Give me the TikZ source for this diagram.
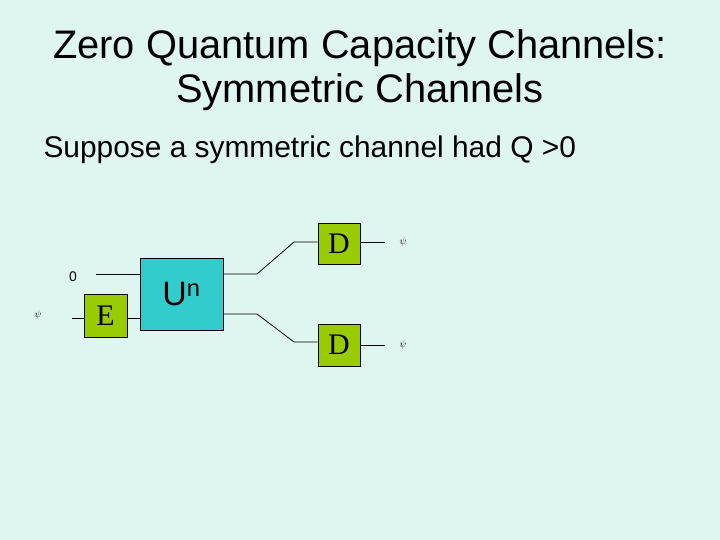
\documentclass[tikz,border=0pt]{standalone}
\usepackage{fontspec}
\setmainfont{Liberation Sans}
\newfontfamily\serifff{Liberation Serif}
\definecolor{bgc}{RGB}{222,245,240}
\definecolor{boxg}{RGB}{153,204,0}
\definecolor{boxu}{RGB}{51,204,204}
\begin{document}
\begin{tikzpicture}[x=1bp,y=-1bp,
  gate/.style={draw=black,line width=0.8bp,minimum width=#1,inner sep=0},
  wire/.style={line width=0.8bp}]
\fill[bgc] (0,0) rectangle (720,540);
\node[align=center,font=\fontsize{40}{44}\selectfont] (title) at (360,70) {Zero Quantum Capacity Channels:\\Symmetric Channels};
\node[anchor=west,font=\fontsize{30}{34}\selectfont] (sub) at (40,150) {Suppose a symmetric channel had Q >0};
\node[gate=43bp,minimum height=43bp,fill=boxg,font=\serifff\fontsize{30}{30}\selectfont] (E) at (105.5,315.5) {E};
\node[gate=83bp,minimum height=72bp,fill=boxu,font=\fontsize{34}{34}\selectfont] (U) at (181.5,294) {U\textsuperscript{n}};
\node[gate=42bp,minimum height=41bp,fill=boxg,font=\serifff\fontsize{30}{30}\selectfont] (D1) at (339,243.5) {D};
\node[gate=42bp,minimum height=42bp,fill=boxg,font=\serifff\fontsize{30}{30}\selectfont] (D2) at (339,345) {D};
\node (psi) at (38,315) {$\psi$};
\node (zero) at (73,277) {\fontsize{14}{14}\selectfont 0};
\node (psi1) at (403,242) {$\psi$};
\node (psi2) at (403,345) {$\psi$};
\coordinate (in0) at (96,274);
\coordinate (inpsi) at (72,318);
\coordinate (out1) at (385,242);
\coordinate (out2) at (385,345);
\draw[wire] (inpsi) -- (E.west |- inpsi);
\draw[wire] (E.east |- inpsi) -- (U.west |- inpsi);
\draw[wire] (in0) -- (U.west |- in0);
\draw[wire] (U.east |- in0) -- (257,274) -- (294,242) -- (D1.west |- 0,242);
\draw[wire] (U.east |- 0,314) -- (257,314) -- (294,342) -- (D2.west |- 0,342);
\draw[wire] (D1.east |- out1) -- (out1);
\draw[wire] (D2.east |- out2) -- (out2);
\end{tikzpicture}
\end{document}
